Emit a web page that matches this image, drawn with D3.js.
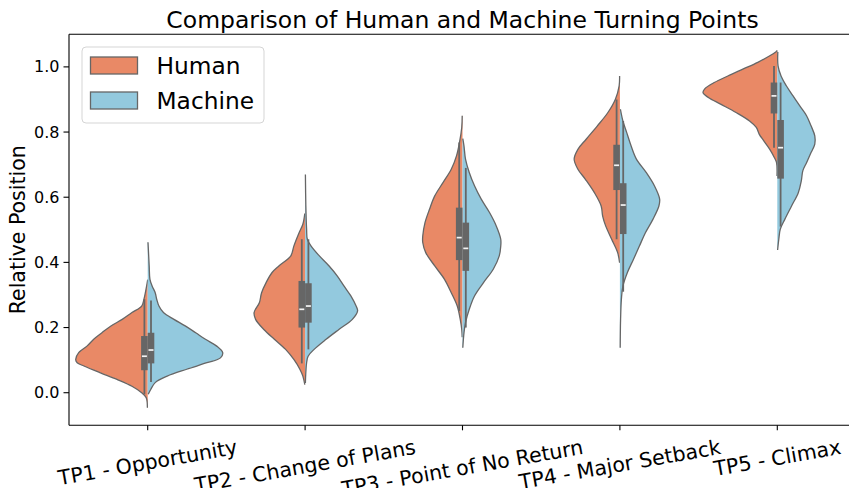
<!DOCTYPE html>
<html>
<head>
<meta charset="utf-8">
<script src="https://cdn.jsdelivr.net/npm/d3@7.9.0/dist/d3.min.js"></script>
<style>
  body { margin: 0; background: #fff; }
  svg { display: block; font-family: "DejaVu Sans", sans-serif; }
</style>
</head>
<body>
<svg id="chart" width="849" height="488"></svg>
<script>
const categories = [
  "TP1 - Opportunity",
  "TP2 - Change of Plans",
  "TP3 - Point of No Return",
  "TP4 - Major Setback",
  "TP5 - Climax",
];
const groups = ["Human", "Machine"];
const yTicks = [0.0, 0.2, 0.4, 0.6, 0.8, 1.0];

// violin profiles: [relative position, relative density]
const humanDensity = [
  [[0.347, 0], [0.333, 0.01], [0.287, 0.05], [0.266, 0.08], [0.246, 0.21], [0.225, 0.34],
   [0.205, 0.49], [0.184, 0.61], [0.164, 0.72], [0.143, 0.81], [0.123, 0.92], [0.102, 0.96],
   [0.092, 0.94], [0.082, 0.85], [0.061, 0.63], [0.041, 0.41], [0.020, 0.21], [0.0, 0.08],
   [-0.015, 0.02], [-0.046, 0.004]],
  [[0.55, 0.004], [0.517, 0.03], [0.491, 0.08], [0.450, 0.15], [0.420, 0.19], [0.389, 0.35],
   [0.369, 0.44], [0.338, 0.52], [0.307, 0.58], [0.276, 0.61], [0.246, 0.68], [0.225, 0.66],
   [0.194, 0.55], [0.164, 0.41], [0.133, 0.26], [0.102, 0.15], [0.072, 0.07], [0.051, 0.03],
   [0.025, 0.004]],
  [[0.850, 0.004], [0.814, 0.01], [0.768, 0.04], [0.727, 0.08], [0.686, 0.15], [0.645, 0.26],
   [0.604, 0.37], [0.563, 0.44], [0.522, 0.50], [0.481, 0.53], [0.461, 0.53], [0.430, 0.49],
   [0.389, 0.37], [0.348, 0.24], [0.307, 0.15], [0.266, 0.07], [0.225, 0.03], [0.194, 0.01],
   [0.17, 0.004]],
  [[0.972, 0.004], [0.942, 0.01], [0.901, 0.06], [0.860, 0.16], [0.819, 0.30], [0.778, 0.45],
   [0.747, 0.56], [0.717, 0.61], [0.686, 0.56], [0.655, 0.46], [0.614, 0.34], [0.573, 0.25],
   [0.542, 0.23], [0.512, 0.19], [0.471, 0.11], [0.430, 0.03], [0.399, 0.004]],
  [[1.05, 0], [1.046, 0.02], [1.034, 0.10], [1.014, 0.26], [0.993, 0.46], [0.972, 0.66],
   [0.952, 0.84], [0.932, 0.97], [0.921, 0.99], [0.906, 0.92], [0.885, 0.75], [0.860, 0.55],
   [0.834, 0.37], [0.814, 0.28], [0.793, 0.24], [0.773, 0.18], [0.747, 0.10], [0.722, 0.04],
   [0.706, 0.01], [0.665, 0.004]],
];
const machineDensity = [
  [[0.462, 0.004], [0.389, 0.02], [0.348, 0.03], [0.327, 0.06], [0.307, 0.10], [0.287, 0.12],
   [0.266, 0.15], [0.246, 0.21], [0.225, 0.35], [0.205, 0.50], [0.184, 0.64], [0.164, 0.77],
   [0.143, 0.92], [0.123, 1.0], [0.107, 0.97], [0.092, 0.79], [0.072, 0.52], [0.051, 0.26],
   [0.031, 0.10], [0.010, 0.04], [-0.005, 0.007]],
  [[0.670, 0.004], [0.573, 0.01], [0.502, 0.02], [0.471, 0.03], [0.450, 0.08], [0.420, 0.19],
   [0.389, 0.32], [0.358, 0.43], [0.327, 0.52], [0.297, 0.61], [0.266, 0.68], [0.251, 0.70],
   [0.225, 0.63], [0.194, 0.45], [0.164, 0.28], [0.133, 0.12], [0.112, 0.04], [0.092, 0.02],
   [0.06, 0.009], [0.03, 0.004]],
  [[0.78, 0.004], [0.757, 0.02], [0.717, 0.04], [0.676, 0.09], [0.635, 0.16], [0.594, 0.25],
   [0.553, 0.36], [0.512, 0.45], [0.471, 0.51], [0.450, 0.51], [0.420, 0.49], [0.379, 0.41],
   [0.338, 0.28], [0.297, 0.16], [0.256, 0.09], [0.215, 0.04], [0.184, 0.02], [0.138, 0.004]],
  [[0.87, 0.007], [0.834, 0.04], [0.799, 0.09], [0.757, 0.15], [0.717, 0.22], [0.676, 0.35],
   [0.635, 0.46], [0.594, 0.53], [0.573, 0.52], [0.532, 0.44], [0.491, 0.34], [0.450, 0.26],
   [0.409, 0.18], [0.369, 0.10], [0.327, 0.04], [0.287, 0.02], [0.225, 0.009], [0.138, 0.004]],
  [[1.046, 0.007], [1.003, 0.01], [0.972, 0.05], [0.942, 0.12], [0.911, 0.21], [0.880, 0.30],
   [0.850, 0.39], [0.819, 0.45], [0.788, 0.50], [0.763, 0.50], [0.737, 0.45], [0.706, 0.39],
   [0.681, 0.34], [0.650, 0.32], [0.614, 0.28], [0.573, 0.19], [0.532, 0.10], [0.502, 0.04],
   [0.471, 0.02], [0.438, 0.004]],
];

// inner box: [whisker low, q1, median, q3, whisker high]
const humanBox = [
  [-0.005, 0.069, 0.112, 0.174, 0.287],
  [0.09, 0.200, 0.256, 0.343, 0.471],
  [0.251, 0.407, 0.476, 0.568, 0.768],
  [0.471, 0.622, 0.698, 0.761, 0.90],
  [0.752, 0.857, 0.911, 0.952, 1.003],
];
const machineBox = [
  [0.033, 0.09, 0.131, 0.184, 0.283],
  [0.133, 0.215, 0.266, 0.336, 0.471],
  [0.20, 0.374, 0.443, 0.522, 0.69],
  [0.31, 0.487, 0.576, 0.643, 0.834],
  [0.51, 0.657, 0.752, 0.837, 0.952],
];

const colors = { Human: "#e98966", Machine: "#93c9de" };
const lineColor = "#666666";

const svg = d3.select("#chart");
const margin = { left: 69, top: 34.3, right: 856, bottom: 425.3 };

const x = d3.scaleBand().domain(categories).range([margin.left, margin.right]);
const y = d3.scaleLinear().domain([-0.1, 1.1]).range([margin.bottom, margin.top]);
const w = d3.scaleLinear().domain([0, 1]).range([0, 75]);

const plot = svg.append("g");

categories.forEach((cat, i) => {
  const cx = x(cat) + x.bandwidth() / 2;
  [["Human", humanDensity[i], -1], ["Machine", machineDensity[i], 1]].forEach(([g, dens, side]) => {
    const area = d3.area()
      .curve(d3.curveCatmullRom)
      .y((d) => y(d[0]))
      .x0(cx)
      .x1((d) => cx + side * w(d[1]));
    const outline = d3.line()
      .curve(d3.curveCatmullRom)
      .x((d) => cx + side * w(d[1]))
      .y((d) => y(d[0]));
    plot.append("path").attr("d", area(dens)).attr("fill", colors[g]);
    plot.append("path").attr("d", outline(dens))
      .attr("fill", "none").attr("stroke", lineColor).attr("stroke-width", 1.3);
  });

  [[humanBox[i], -1], [machineBox[i], 1]].forEach(([b, side]) => {
    const bw = 6.6;
    const x0 = side < 0 ? cx - bw : cx;
    plot.append("line")
      .attr("x1", cx + side * bw / 2).attr("x2", cx + side * bw / 2)
      .attr("y1", y(b[0])).attr("y2", y(b[4]))
      .attr("stroke", lineColor).attr("stroke-width", 1.8);
    plot.append("rect")
      .attr("x", x0).attr("width", bw)
      .attr("y", y(b[3])).attr("height", y(b[1]) - y(b[3]))
      .attr("fill", lineColor);
    plot.append("line")
      .attr("x1", x0 + 0.8).attr("x2", x0 + bw - 0.8)
      .attr("y1", y(b[2])).attr("y2", y(b[2]))
      .attr("stroke", "#f4f4f4").attr("stroke-width", 1.7);
  });
});

// spines
const spine = svg.append("g").attr("stroke", "#000").attr("stroke-width", 1.1);
spine.append("line").attr("x1", margin.left).attr("x2", margin.left)
  .attr("y1", margin.top).attr("y2", margin.bottom);
spine.append("line").attr("x1", margin.left).attr("x2", margin.right)
  .attr("y1", margin.bottom).attr("y2", margin.bottom);
spine.append("line").attr("x1", margin.left).attr("x2", margin.right)
  .attr("y1", margin.top).attr("y2", margin.top);

// y axis
const yAxis = svg.append("g");
yTicks.forEach((t) => {
  yAxis.append("line").attr("x1", margin.left - 5.5).attr("x2", margin.left)
    .attr("y1", y(t)).attr("y2", y(t)).attr("stroke", "#000").attr("stroke-width", 1.1);
  yAxis.append("text").attr("x", margin.left - 9.5).attr("y", y(t)).attr("dy", "0.35em")
    .attr("text-anchor", "end").attr("font-size", 16).text(d3.format(".1f")(t));
});

// x axis, labels rotated 10 degrees
const xAxis = svg.append("g");
const xfs = 20.5, rot = 10 * Math.PI / 180, labelTop = 435;
categories.forEach((cat) => {
  const cx = x(cat) + x.bandwidth() / 2;
  xAxis.append("line").attr("x1", cx).attr("x2", cx)
    .attr("y1", margin.bottom).attr("y2", margin.bottom + 5)
    .attr("stroke", "#000").attr("stroke-width", 1.1);
  const t = xAxis.append("text").attr("font-size", xfs).attr("text-anchor", "middle")
    .attr("dy", "0.346em").text(cat);
  const L = t.node().getComputedTextLength();
  const h = 1.164 * xfs;
  const cy = labelTop + (L * Math.sin(rot) + h * Math.cos(rot)) / 2;
  t.attr("transform", `translate(${cx},${cy}) rotate(-10)`);
});

// axis labels and title
svg.append("text").attr("transform", `translate(25,${(margin.top + margin.bottom) / 2}) rotate(-90)`)
  .attr("text-anchor", "middle").attr("font-size", 20.5).text("Relative Position");
svg.append("text").attr("x", (margin.left + margin.right) / 2).attr("y", 28.3)
  .attr("text-anchor", "middle").attr("font-size", 23.5)
  .text("Comparison of Human and Machine Turning Points");

// legend
const legend = svg.append("g");
legend.append("rect").attr("x", 82).attr("y", 47).attr("width", 182).attr("height", 76)
  .attr("rx", 4).attr("fill", "#fff").attr("fill-opacity", 0.8)
  .attr("stroke", "#d5d5d5").attr("stroke-width", 1);
groups.forEach((g, i) => {
  const ly = 57 + i * 35;
  legend.append("rect").attr("x", 90.5).attr("y", ly).attr("width", 47).attr("height", 17)
    .attr("fill", colors[g]).attr("stroke", lineColor).attr("stroke-width", 1.3);
  legend.append("text").attr("x", 156.5).attr("y", ly + 8.5).attr("dy", "0.36em")
    .attr("font-size", 23.3).text(g);
});
</script>
</body>
</html>
